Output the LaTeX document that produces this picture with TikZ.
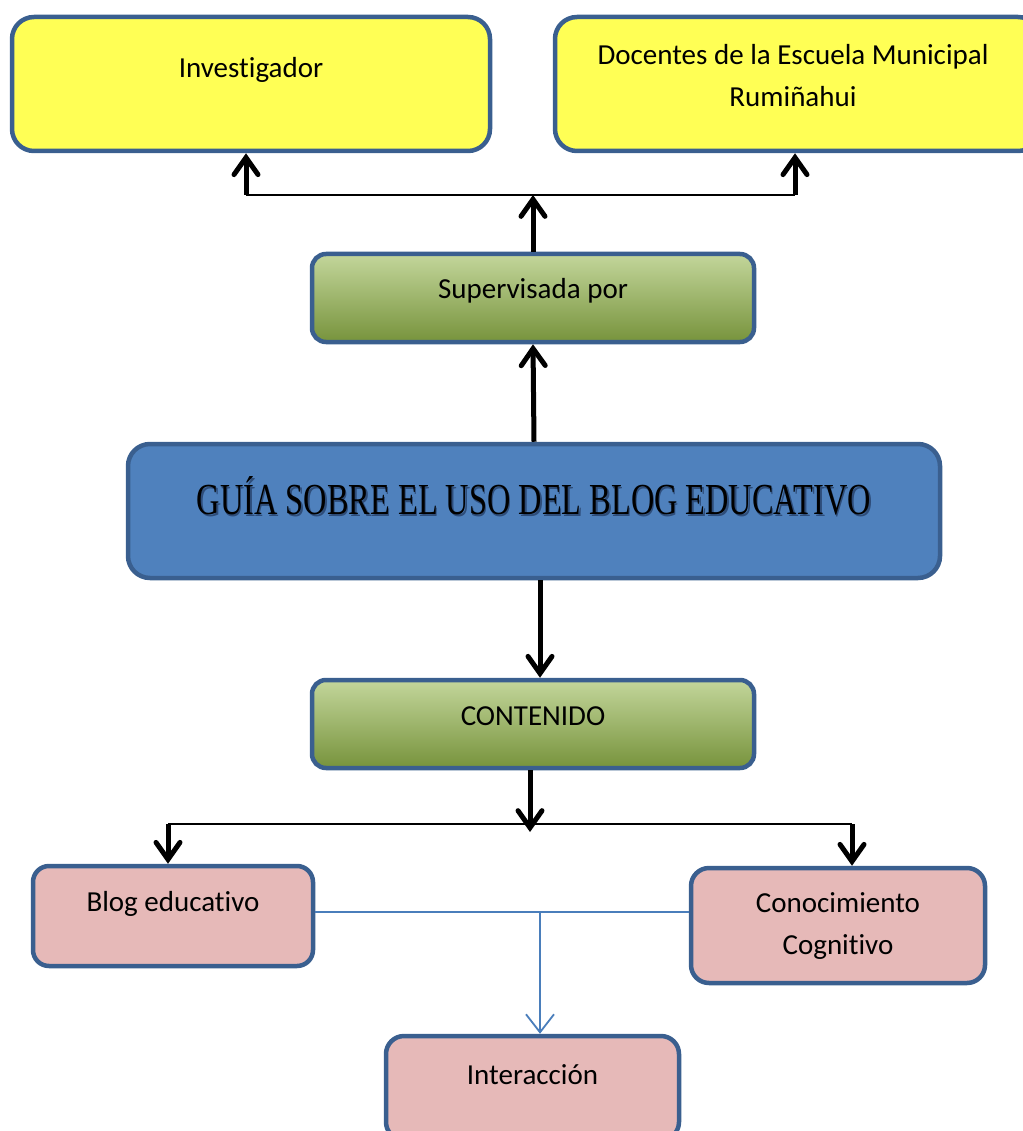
\documentclass[tikz,border=0pt]{standalone}
\usepackage{fontspec}
\setmainfont{Carlito}[Ligatures={NoCommon}]
\newfontfamily\titlefont{Liberation Serif}
\usetikzlibrary{arrows.meta,calc}
\definecolor{bordc}{HTML}{3A5F8F}
\definecolor{yellowc}{HTML}{FFFF55}
\definecolor{greenL}{HTML}{C3D69B}
\definecolor{greenD}{HTML}{77933C}
\definecolor{bluec}{HTML}{4F81BD}
\definecolor{pinkc}{HTML}{E6B9B8}
\definecolor{linkc}{HTML}{4A7EBB}
\definecolor{shadc}{HTML}{2E4D7A}
\begin{document}
\begin{tikzpicture}[x=1pt,y=-1pt,
  box/.style={draw=bordc, line width=4.5pt, rounded corners=22pt, inner sep=0pt},
  greenbox/.style={box, top color=greenL, bottom color=greenD, rounded corners=14pt},
  txt/.style={font=\fontsize{29}{42}\selectfont, inner sep=0pt, align=center},
  bigarrow/.style={line width=5pt, -{Straight Barb[length=17pt,width=24pt,line cap=round]}},
  bar/.style={line width=2.5pt, black},
  thinarrow/.style={draw=linkc, line width=1.8pt, -{Straight Barb[length=18pt,width=28pt]}},
  thinline/.style={draw=linkc, line width=1.8pt}
]
\useasboundingbox (0,0) rectangle (1022,1131);

% boxes
\node[box, fill=yellowc, minimum width=478pt, minimum height=134pt] (inv) at (251,84) {};
\node[box, fill=yellowc, minimum width=485pt, minimum height=134pt] (doc) at (797.5,84) {};
\node[greenbox, minimum width=442pt, minimum height=88pt] (sup) at (533,298) {};
\node[box, fill=bluec, minimum width=812pt, minimum height=134pt] (guia) at (534,511) {};
\node[greenbox, minimum width=442pt, minimum height=88pt] (cont) at (533,724) {};
\node[box, fill=pinkc, rounded corners=16pt, minimum width=280pt, minimum height=100pt] (blog) at (173,916) {};
\node[box, fill=pinkc, rounded corners=18pt, minimum width=294pt, minimum height=115pt] (cono) at (838,925.5) {};
\node[box, fill=pinkc, rounded corners=18pt, minimum width=293pt, minimum height=104pt] (inter) at (532.5,1088) {};

% texts
\node[txt] (tinv) at (251,70) {Investigador};
\node[txt] (tdoc) at (793,76) {Docentes de la Escuela Municipal\\Rumiñahui};
\node[txt] (tsup) at (533,291) {Supervisada por};
\node[inner sep=0pt, text=shadc] (tguias) at (535.5,497.5) {\titlefont\resizebox{674pt}{38pt}{GUÍA SOBRE EL USO DEL BLOG EDUCATIVO}};
\node[inner sep=0pt] (tguia) at (534,496) {\titlefont\resizebox{674pt}{38pt}{GUÍA SOBRE EL USO DEL BLOG EDUCATIVO}};
\node[txt] (tcont) at (533,716) {CONTENIDO};
\node[txt] (tblog) at (173,904) {Blog educativo};
\node[txt] (tcono) at (838,926) {Conocimiento\\Cognitivo};
\node[txt] (tinter) at (532.5,1075) {Interacción};

% junctions
\coordinate (jtop) at (533,195);
\coordinate (jtl) at (246,195);
\coordinate (jtr) at (795,195);
\coordinate (jmid) at (530,832);
\coordinate (jbl) at (168,824);
\coordinate (jbr) at (852,824);
\coordinate (jb) at (540,912);

% top connectors
\draw[bar] (jtl) -- (jtr);
\draw[bigarrow] (sup.north) -- (jtop);
\draw[bigarrow] (jtl) -- (jtl |- inv.south);
\draw[bigarrow] (jtr) -- (jtr |- doc.south);
\draw[bigarrow] (guia.north) -- (sup.south);

% middle connectors
\draw[bigarrow] ($(guia.south)+(6,0)$) -- ($(cont.north)+(7,0)$);
\draw[bar] (jbl) -- (jbr);
\draw[bigarrow] ($(cont.south)+(-3,0)$) -- (jmid);
\draw[bigarrow] (jbl) -- (jbl |- blog.north);
\draw[bigarrow] (jbr) -- (jbr |- cono.north);

% bottom connectors
\draw[thinline] (blog.east |- jb) -- (cono.west |- jb);
\draw[thinarrow] (jb) -- (jb |- inter.north);
\end{tikzpicture}
\end{document}
